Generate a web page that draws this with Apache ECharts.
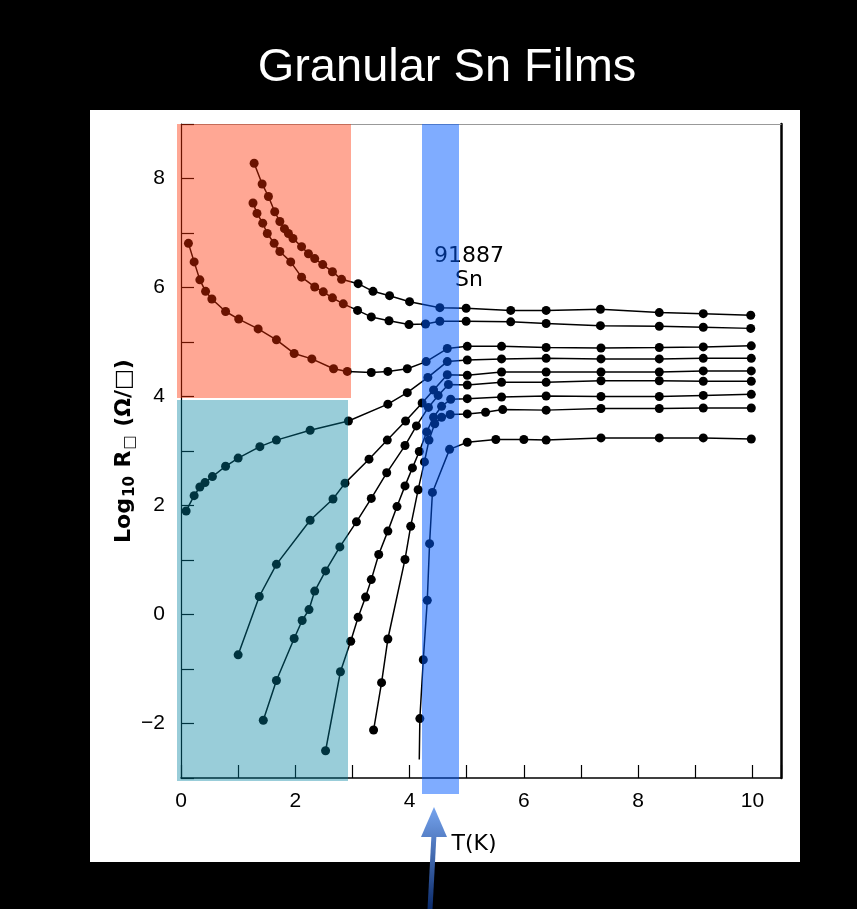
<!DOCTYPE html>
<html>
<head>
<meta charset="utf-8">
<script src="https://cdn.jsdelivr.net/npm/echarts@6/dist/echarts.min.js"></script>
<style>
html,body{margin:0;padding:0;background:#000;}
#c{width:857px;height:909px;}
</style>
</head>
<body>
<div id="c"></div>
<script>
// ---- data: [T (K), log10 R] ----
const film1 = [[1.28,8.28],[1.42,7.90],[1.53,7.67],[1.64,7.39],[1.73,7.21],[1.81,7.08],[1.88,6.99],[1.96,6.90],[2.11,6.75],[2.23,6.62],[2.34,6.53],[2.48,6.42],[2.65,6.29],[2.81,6.15],[3.10,6.07],[3.36,5.93],[3.65,5.85],[4.00,5.74],[4.53,5.63],[4.99,5.62],[5.77,5.58],[6.39,5.58],[7.34,5.60],[8.37,5.54],[9.14,5.52],[9.97,5.49]];
const film2 = [[1.26,7.55],[1.33,7.36],[1.43,7.18],[1.51,6.99],[1.63,6.81],[1.73,6.66],[1.92,6.47],[2.11,6.19],[2.34,6.01],[2.49,5.92],[2.65,5.81],[2.84,5.70],[3.09,5.58],[3.33,5.46],[3.64,5.39],[3.99,5.32],[4.28,5.33],[4.53,5.38],[4.99,5.38],[5.77,5.37],[6.39,5.34],[7.34,5.30],[8.37,5.29],[9.14,5.27],[9.97,5.25]];
const film3 = [[0.13,6.81],[0.23,6.47],[0.33,6.14],[0.43,5.93],[0.54,5.79],[0.78,5.56],[1.01,5.42],[1.35,5.24],[1.67,5.04],[1.98,4.79],[2.29,4.69],[2.67,4.51],[2.91,4.46],[3.33,4.44],[3.62,4.46],[3.96,4.51],[4.29,4.64],[4.66,4.88],[5.01,4.92],[5.61,4.92],[6.39,4.90],[7.35,4.89],[8.37,4.90],[9.14,4.91],[9.98,4.93]];
const film4 = [[0.09,1.90],[0.23,2.18],[0.33,2.34],[0.42,2.42],[0.55,2.53],[0.78,2.72],[1.00,2.87],[1.38,3.08],[1.67,3.20],[2.26,3.38],[2.93,3.55],[3.62,3.86],[3.96,4.07],[4.32,4.35],[4.66,4.64],[5.01,4.67],[5.61,4.69],[6.39,4.70],[7.35,4.69],[8.37,4.69],[9.14,4.70],[9.98,4.70]];
const film5 = [[1.00,-0.74],[1.37,0.33],[1.67,0.92],[2.26,1.73],[2.66,2.12],[2.87,2.41],[3.29,2.85],[3.61,3.20],[3.93,3.55],[4.22,3.88],[4.42,4.12],[4.66,4.40],[5.01,4.39],[5.61,4.45],[6.39,4.45],[7.35,4.45],[8.37,4.45],[9.14,4.47],[9.98,4.47]];
const film6 = [[1.44,-1.94],[1.67,-1.21],[1.98,-0.44],[2.12,-0.11],[2.24,0.09],[2.34,0.43],[2.53,0.80],[2.78,1.24],[3.07,1.70],[3.33,2.13],[3.60,2.60],[3.92,3.10],[4.12,3.46],[4.33,3.80],[4.50,4.02],[4.68,4.22],[5.01,4.21],[5.61,4.26],[6.39,4.26],[7.35,4.29],[8.37,4.29],[9.14,4.28],[9.98,4.28]];
const film7 = [[2.53,-2.50],[2.79,-1.05],[2.97,-0.49],[3.10,-0.05],[3.23,0.32],[3.33,0.64],[3.46,1.10],[3.62,1.53],[3.78,1.98],[3.92,2.36],[4.05,2.69],[4.17,2.99],[4.30,3.35],[4.42,3.62],[4.56,3.82],[4.72,3.95],[5.01,3.96],[5.61,3.99],[6.39,4.01],[7.35,4.00],[8.37,4.00],[9.14,4.02],[9.98,4.04]];
const film8 = [[3.37,-2.12],[3.51,-1.25],[3.62,-0.45],[3.92,1.01],[4.02,1.62],[4.15,2.29],[4.26,2.80],[4.34,3.20],[4.44,3.50],[4.56,3.62],[4.71,3.67],[5.01,3.68],[5.33,3.71],[5.63,3.76],[6.39,3.75],[7.35,3.78],[8.37,3.78],[9.14,3.79],[9.98,3.79]];
const film9 = [[4.18,-1.91],[4.24,-0.83],[4.31,0.26],[4.35,1.30],[4.40,2.24],[4.70,3.03],[5.01,3.16],[5.51,3.21],[6.00,3.21],[6.39,3.20],[7.35,3.24],[8.37,3.24],[9.14,3.24],[9.98,3.22]];
const film9Tail = [4.17,-2.66];   // line continues below last dot (no marker)

const xTickLabels = ['0','2','4','6','8','10'];
const yTickLabels = ['\u22122','0','2','4','6','8'];
const titleText = 'Granular Sn Films';
const sampleId = '91887';
const sampleMat = 'Sn';
const xName = 'T(K)';

const chart = echarts.init(document.getElementById('c'), null, {renderer:'canvas', width:857, height:909});

function fmt(labels){
  return function(v){
    const r = Math.round(v*1000)/1000;
    const s = (r < 0 ? '\u2212' : '') + Math.abs(r);
    return labels.indexOf(s) >= 0 ? s : '';
  };
}

const films = [film1, film2, film3, film4, film5, film6, film7, film8, film9];
const series = films.map(function(d, i){
  const data = (i === 8) ? [{value: film9Tail, symbol: 'none'}].concat(d) : d;
  return {
    type: 'line', name: 'film' + (i+1), data: data,
    symbol: 'circle', symbolSize: 9, showSymbol: true,
    itemStyle: {color: '#000'},
    lineStyle: {color: '#000', width: 1.5},
    z: 3, animation: false, silent: true
  };
});

const labelFont = {color:'#000', fontSize: 21, fontFamily: '"Liberation Sans", Arial, sans-serif'};

const option = {
  backgroundColor: '#000',
  animation: false,
  grid: {left: 181, width: 600, top: 124, height: 654, containLabel: false},
  xAxis: [{
    type: 'value', min: 0, max: 10.5, interval: 1,
    axisLine: {show: true, onZero: false, lineStyle: {color: '#000', width: 1.5}},
    axisTick: {show: true, inside: true, length: 13, lineStyle: {color: '#000', width: 1.2}},
    axisLabel: Object.assign({margin: 13, formatter: fmt(xTickLabels)}, labelFont),
    splitLine: {show: false},
    name: xName, nameLocation: 'middle', nameGap: 55, nameMoveOverlap: false,
    nameTextStyle: {color:'#000', fontSize: 22, fontFamily: '"DejaVu Sans", sans-serif', padding: [0, 14, 0, 0]}
  },{
    type: 'value', min: 0, max: 10.5, position: 'top',
    axisLine: {show: true, onZero: false, lineStyle: {color: '#999', width: 1}},
    axisTick: {show: false}, axisLabel: {show: false}, splitLine: {show: false}
  }],
  yAxis: [{
    type: 'value', min: -3, max: 9, interval: 1,
    axisLine: {show: true, onZero: false, lineStyle: {color: '#000', width: 1.2}},
    axisTick: {show: true, inside: true, length: 13, lineStyle: {color: '#000', width: 1.2}},
    axisLabel: Object.assign({margin: 16, formatter: fmt(yTickLabels)}, labelFont),
    splitLine: {show: false},
    name: '{a|Log}{s|10}{a| R}{s|\u25A1}{a| (\u03A9/\u25A1)}',
    nameLocation: 'middle', nameGap: 43, nameMoveOverlap: false,
    nameTextStyle: {
      rich: {
        a: {fontSize: 22, fontWeight: 'bold', color: '#000', fontFamily: '"DejaVu Sans", sans-serif', verticalAlign: 'top', lineHeight: 25},
        s: {fontSize: 15, fontWeight: 'bold', color: '#000', fontFamily: '"DejaVu Sans", sans-serif', verticalAlign: 'bottom', lineHeight: 16, padding: [13, 1, 0, 1]}
      }
    }
  },{
    type: 'value', min: -3, max: 9, position: 'right',
    axisLine: {show: true, onZero: false, lineStyle: {color: '#000', width: 2.5}},
    axisTick: {show: false}, axisLabel: {show: false}, splitLine: {show: false}
  }],
  series: series,
  graphic: [
    {type:'rect', silent:true, z:-10, shape:{x:90, y:110, width:710, height:752}, style:{fill:'#fff'}},
    {type:'text', silent:true, z:5, x:447, y:68, style:{text:titleText, fill:'#fff', font:'47px "Liberation Sans", Arial, sans-serif', textAlign:'center', textVerticalAlign:'middle'}},
    {type:'text', silent:true, z:5, x:469, y:256, style:{text:sampleId, fill:'#000', font:'22px "DejaVu Sans", sans-serif', textAlign:'center', textVerticalAlign:'middle'}},
    {type:'text', silent:true, z:5, x:469, y:280, style:{text:sampleMat, fill:'#000', font:'22px "DejaVu Sans", sans-serif', textAlign:'center', textVerticalAlign:'middle'}},
    // highlight overlays
    {type:'rect', silent:true, z:100, shape:{x:177, y:124, width:174, height:274}, style:{fill:'rgba(255,45,0,0.42)'}},
    {type:'rect', silent:true, z:100, shape:{x:177, y:400, width:171, height:381}, style:{fill:'rgba(0,130,160,0.40)'}},
    {type:'rect', silent:true, z:100, shape:{x:422, y:124, width:37, height:670}, style:{fill:'rgba(0,90,255,0.50)'}},
    // arrow
    {type:'polygon', silent:true, z:100, shape:{points:[[427.5,909],[432.5,909],[436.5,834],[431.5,834]]},
      style:{fill:{type:'linear', x:0, y:806, x2:0, y2:909, global:true, colorStops:[{offset:0,color:'#78a6f0'},{offset:1,color:'#0a2a6a'}]}}},
    {type:'polygon', silent:true, z:100, shape:{points:[[434,807],[421,837],[447,837]]},
      style:{fill:{type:'linear', x:0, y:806, x2:0, y2:909, global:true, colorStops:[{offset:0,color:'#78a6f0'},{offset:1,color:'#0a2a6a'}]}}}
  ]
};
chart.setOption(option);
</script>
</body>
</html>
